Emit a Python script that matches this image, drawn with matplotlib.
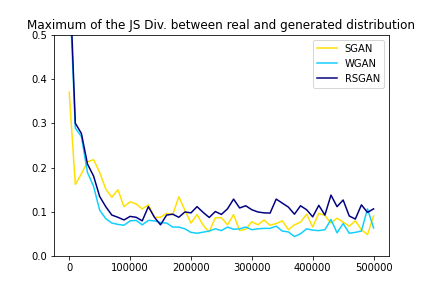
import numpy as np
import matplotlib
matplotlib.use('Agg')
import matplotlib.pyplot as plt

steps = list(range(0, 500001, 10000))

sgan = [0.37, 0.162, 0.186, 0.213, 0.218, 0.189, 0.152, 0.133, 0.15, 0.112,
        0.123, 0.118, 0.107, 0.116, 0.088, 0.088, 0.097, 0.094, 0.134, 0.104,
        0.075, 0.094, 0.07, 0.055, 0.087, 0.087, 0.071, 0.094, 0.058, 0.061,
        0.078, 0.071, 0.082, 0.07, 0.074, 0.08, 0.06, 0.071, 0.077, 0.095,
        0.066, 0.097, 0.092, 0.075, 0.086, 0.077, 0.068, 0.08, 0.06, 0.049,
        0.091]

wgan = [0.62, 0.289, 0.27, 0.189, 0.158, 0.104, 0.085, 0.075, 0.072, 0.07,
        0.08, 0.081, 0.071, 0.081, 0.08, 0.076, 0.075, 0.066, 0.066, 0.062,
        0.054, 0.052, 0.0545, 0.057, 0.062, 0.058, 0.066, 0.061, 0.062, 0.066,
        0.06, 0.062, 0.063, 0.063, 0.068, 0.057, 0.055, 0.0445, 0.051, 0.062,
        0.059, 0.058, 0.06, 0.083, 0.053, 0.074, 0.052, 0.054, 0.057, 0.107,
        0.064]

rsgan = [0.66, 0.30, 0.277, 0.208, 0.181, 0.135, 0.112, 0.093, 0.088, 0.082,
         0.09, 0.088, 0.08, 0.112, 0.088, 0.071, 0.093, 0.095, 0.088, 0.1,
         0.098, 0.112, 0.099, 0.0876, 0.101, 0.0945, 0.107, 0.129, 0.109, 0.114,
         0.105, 0.1, 0.098, 0.0975, 0.129, 0.12, 0.111, 0.095, 0.114, 0.105,
         0.089, 0.115, 0.093, 0.138, 0.112, 0.127, 0.091, 0.084, 0.116, 0.099,
         0.107]

plt.figure(figsize=(6, 4), dpi=72)
plt.plot(steps, sgan, color='#FFE000', label='SGAN')
plt.plot(steps, wgan, color='#10CFFF', label='WGAN')
plt.plot(steps, rsgan, color='navy', label='RSGAN')
plt.ylim(0, 0.5)
plt.title("Maximum of the JS Div. between real and generated distribution")
plt.legend()
plt.savefig('out.png')
